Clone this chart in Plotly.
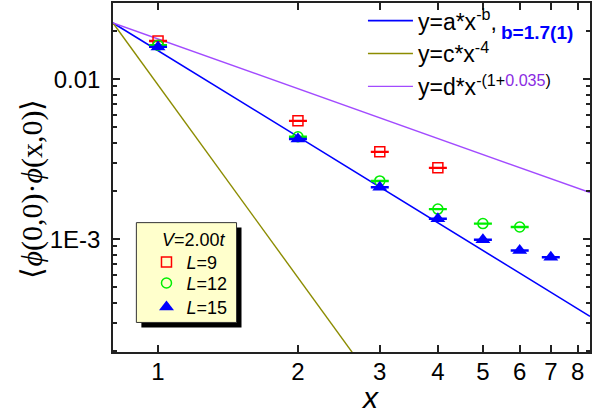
import math
import plotly.graph_objects as go

# ---------------- data ----------------
x_L9 = [1, 2, 3, 4]
y_L9 = [0.0173, 0.00549, 0.00351, 0.00279]
e_L9 = [0.00012, 0.00003, 0.00002, 0.000015]

x_L12 = [1, 2, 3, 4, 5, 6]
y_L12 = [0.0163, 0.00436, 0.00231, 0.00154, 0.00125, 0.00119]
e_L12 = [0.00011, 0.00003, 0.000015, 0.00001, 0.000008, 0.000008]

x_L15 = [1, 2, 3, 4, 5, 6, 7]
y_L15 = [0.0159, 0.00422, 0.00211, 0.00134, 0.00099, 0.00085, 0.00077]
e_L15 = [0.0001, 0.00003, 0.000014, 0.000009, 0.000007, 0.000006, 0.000005]

# fitted power laws (end points)
fit_x = [0.8, 8.5]
fit_a_y = [0.02244, 0.000329]     # y = a*x^-b
fit_d_y = [0.02244, 0.001953]     # y = d*x^-(1+0.035)
fit_c_x = [0.8, 3.0]
fit_c_y = [0.02244, 0.0001135]    # y = c*x^-4
fit_b_text = "b=1.7(1)"

x_ticks = [1, 2, 3, 4, 5, 6, 7, 8]
y_ticks = [0.001, 0.01]
y_ticktext = ["1E-3", "0.01"]
y_minor = [2e-4, 3e-4, 4e-4, 5e-4, 6e-4, 7e-4, 8e-4, 9e-4,
           2e-3, 3e-3, 4e-3, 5e-3, 6e-3, 7e-3, 8e-3, 9e-3, 0.02, 0.03]

x_range = [0.8, 8.5]
y_range = [1.97e-4, 0.0299]

FONT = "Arial, Liberation Sans, sans-serif"
BLUE = "#0000FF"
OLIVE = "#8C8C00"
PURPLE = "#A24BFF"

fig = go.Figure()

fig.add_trace(go.Scatter(
    x=fit_x, y=fit_a_y, mode="lines", line=dict(color=BLUE, width=1.6),
    name="y=a*x<sup>-b</sup>,", legend="legend"))
fig.add_trace(go.Scatter(
    x=fit_c_x, y=fit_c_y, mode="lines", line=dict(color=OLIVE, width=1.4),
    name="y=c*x<sup>-4</sup>", legend="legend"))
fig.add_trace(go.Scatter(
    x=fit_x, y=fit_d_y, mode="lines", line=dict(color=PURPLE, width=1.4),
    name="y=d*x<sup>-(1+<span style='color:#8A2BE2'>0.035</span>)</sup>",
    legend="legend"))

fig.add_trace(go.Scatter(
    x=x_L9, y=y_L9, mode="markers", name="<i>L</i>=9", legend="legend2",
    marker=dict(symbol="square-open", size=10, color="#FF0000", line=dict(width=1.5)),
    error_y=dict(type="data", array=e_L9, color="#FF0000", thickness=1.5, width=9)))
fig.add_trace(go.Scatter(
    x=x_L12, y=y_L12, mode="markers", name="<i>L</i>=12", legend="legend3",
    marker=dict(symbol="circle-open", size=10, color="#00EE00", line=dict(width=1.5)),
    error_y=dict(type="data", array=e_L12, color="#00EE00", thickness=1.5, width=9)))
fig.add_trace(go.Scatter(
    x=x_L15, y=y_L15, mode="markers", name="<i>L</i>=15", legend="legend4",
    marker=dict(symbol="triangle-up", size=13, color=BLUE),
    error_y=dict(type="data", array=e_L15, color=BLUE, thickness=1.5, width=9)))

# legend box of the symbols legend, with its drop shadow
fig.add_shape(type="rect", xref="paper", yref="paper", layer="above",
              x0=0.0595, x1=0.2694, y0=0.0704, y1=0.3564,
              fillcolor="black", line=dict(width=0))
fig.add_shape(type="rect", xref="paper", yref="paper", layer="above",
              x0=0.049, x1=0.259, y0=0.0847, y1=0.3707,
              fillcolor="#FFFFCC", line=dict(color="#333333", width=1))

axis_common = dict(
    type="log", showgrid=False, zeroline=False,
    showline=True, linecolor="#222222", linewidth=1.5, mirror="ticks",
    ticks="inside", ticklen=7, tickwidth=1.5, tickcolor="#222222",
    tickfont=dict(family=FONT, size=24, color="black"),
)

sym_legend = dict(xanchor="left", yanchor="middle", bgcolor="rgba(0,0,0,0)",
                  borderwidth=0, font=dict(family=FONT, size=18, color="black"))

fig.update_layout(
    width=615, height=416,
    margin=dict(l=113, r=25, t=3, b=64, autoexpand=False),
    paper_bgcolor="white", plot_bgcolor="white",
    font=dict(family=FONT, color="black"),
    xaxis=dict(axis_common, range=[math.log10(x_range[0]), math.log10(x_range[1])],
               tickmode="array", tickvals=x_ticks, ticktext=[str(v) for v in x_ticks],
               ticklabelstandoff=-3),
    yaxis=dict(axis_common, range=[math.log10(y_range[0]), math.log10(y_range[1])],
               tickmode="array", tickvals=y_ticks, ticktext=y_ticktext,
               ticklabelstandoff=6,
               minor=dict(tickmode="array", tickvals=y_minor, ticks="inside",
                          ticklen=4, tickwidth=1.5, tickcolor="#222222")),
    legend=dict(x=0.524, y=1.011, xanchor="left", yanchor="top",
                bgcolor="rgba(0,0,0,0)", borderwidth=0,
                font=dict(family=FONT, size=23, color="black"),
                tracegroupgap=0, itemwidth=45),
    legend2=dict(sym_legend, x=0.0702, y=0.257),
    legend3=dict(sym_legend, x=0.0702, y=0.197),
    legend4=dict(sym_legend, x=0.0702, y=0.128),
    showlegend=True,
)

fig.add_annotation(text="<b>" + fit_b_text + "</b>", xref="paper", yref="paper",
                   x=0.809, y=0.916, xanchor="left", yanchor="middle",
                   showarrow=False, font=dict(family=FONT, size=19, color=BLUE))
fig.add_annotation(text="<i>V</i>=2.00<i>t</i>", xref="paper", yref="paper",
                   x=0.170, y=0.321, xanchor="center", yanchor="middle",
                   showarrow=False, font=dict(family=FONT, size=18, color="black"))
fig.add_annotation(text="<i>x</i>", xref="paper", yref="paper",
                   x=0.5385, y=-0.131, xanchor="center", yanchor="middle",
                   showarrow=False, font=dict(family=FONT, size=30, color="black"))
fig.add_annotation(text="\u27e8<i>\u03d5</i>(0,0)\u00b7<i>\u03d5</i>(x,0)\u27e9",
                   xref="paper", yref="paper", x=-0.170, y=0.468,
                   xanchor="center", yanchor="middle", textangle=-90,
                   showarrow=False,
                   font=dict(family="Liberation Serif, Times New Roman, serif",
                             size=30, color="black"))

fig.write_html("out.html", config={"displayModeBar": False},
               post_script="document.body.style.margin='0px';")
